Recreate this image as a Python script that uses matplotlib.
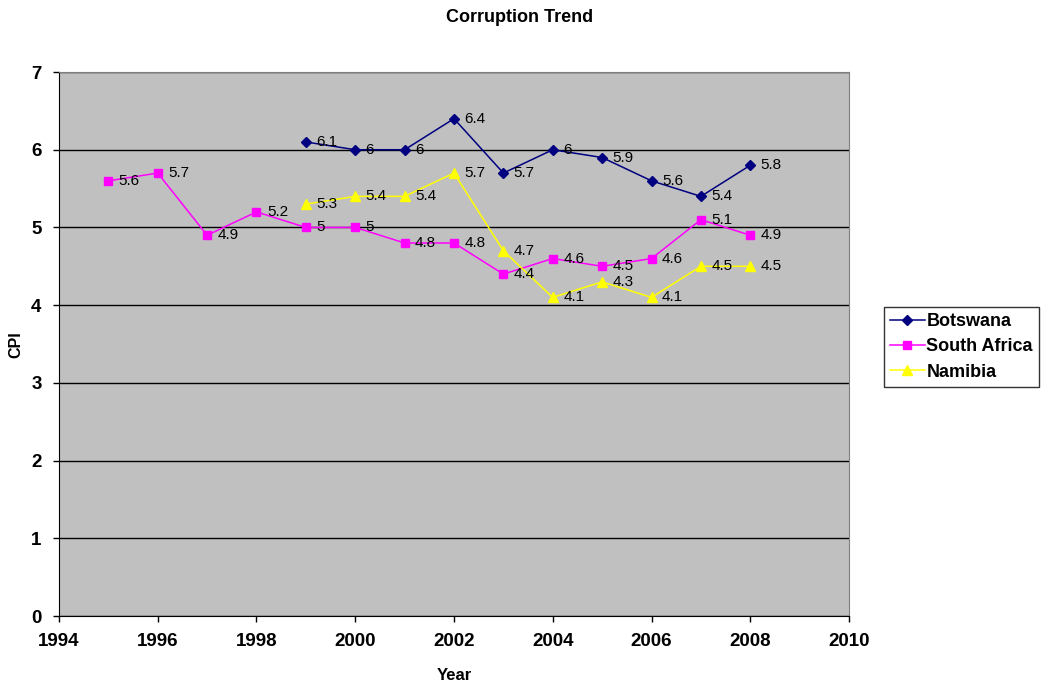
import matplotlib
matplotlib.use("Agg")
import matplotlib.pyplot as plt

plt.rcParams['font.family'] = ['Liberation Sans', 'DejaVu Sans']

years_bw = [1999, 2000, 2001, 2002, 2003, 2004, 2005, 2006, 2007, 2008]
cpi_bw = [6.1, 6, 6, 6.4, 5.7, 6, 5.9, 5.6, 5.4, 5.8]

years_za = [1995, 1996, 1997, 1998, 1999, 2000, 2001, 2002, 2003, 2004, 2005, 2006, 2007, 2008]
cpi_za = [5.6, 5.7, 4.9, 5.2, 5, 5, 4.8, 4.8, 4.4, 4.6, 4.5, 4.6, 5.1, 4.9]

years_na = [1999, 2000, 2001, 2002, 2003, 2004, 2005, 2006, 2007, 2008]
cpi_na = [5.3, 5.4, 5.4, 5.7, 4.7, 4.1, 4.3, 4.1, 4.5, 4.5]

x_ticks = [1994, 1996, 1998, 2000, 2002, 2004, 2006, 2008, 2010]
y_ticks = [0, 1, 2, 3, 4, 5, 6, 7]

fig = plt.figure(figsize=(10.42, 6.86), dpi=100)
ax = fig.add_axes([0.0566, 0.102, 0.7582, 0.793])
ax.set_facecolor('#C0C0C0')

series = [
    ("Botswana", years_bw, cpi_bw, '#000080', 'D', 5.5),
    ("South Africa", years_za, cpi_za, '#FF00FF', 's', 6),
    ("Namibia", years_na, cpi_na, '#FFFF00', '^', 6.5),
]

for name, xs, ys, col, mk, ms in series:
    ax.plot(xs, ys, color=col, marker=mk, markersize=ms, linewidth=1.1,
            markeredgecolor=col, markerfacecolor=col, label=name, zorder=3)
    # value label to the right of each point
    for x, y in zip(xs, ys):
        ax.annotate(f"{y:g}", (x, y), xytext=(7.5, 0), textcoords='offset points',
                    ha='left', va='center', fontsize=11, color='black', zorder=4)

ax.set_xlim(1994, 2010)
ax.set_ylim(0, 7)
ax.set_xticks(x_ticks)
ax.set_yticks(y_ticks)
ax.set_xticklabels([str(t) for t in x_ticks], fontweight='bold', fontsize=13.5)
ax.set_yticklabels([str(t) for t in y_ticks], fontweight='bold', fontsize=13.5)
ax.tick_params(direction='out', length=4.5, width=1, color='black')
ax.tick_params(axis='x', pad=8)
ax.tick_params(axis='y', pad=8)

ax.yaxis.grid(True, color='black', linewidth=1)
ax.set_axisbelow(True)

for side in ('top', 'right'):
    ax.spines[side].set_color('#808080')
for side in ('left', 'bottom'):
    ax.spines[side].set_color('black')

fig.text(520 / 1042, 1 - 17 / 686, "Corruption Trend", fontweight='bold',
         fontsize=13, ha='center', va='center')
fig.text(454 / 1042, 1 - 675 / 686, "Year", fontweight='bold',
         fontsize=12, ha='center', va='center')
fig.text(16 / 1042, 1 - 345 / 686, "CPI", fontweight='bold',
         fontsize=11.5, ha='center', va='center', rotation=90)

leg = fig.legend(loc='upper left', bbox_to_anchor=(884 / 1042, 1 - 307 / 686),
                 frameon=True, fancybox=False,
                 prop={'weight': 'bold', 'size': 13},
                 handlelength=1.9, borderpad=0.35, labelspacing=0.45,
                 handletextpad=0.1, borderaxespad=0)
leg.get_frame().set_edgecolor('black')
leg.get_frame().set_linewidth(1)

fig.savefig("out.png", dpi=100)
